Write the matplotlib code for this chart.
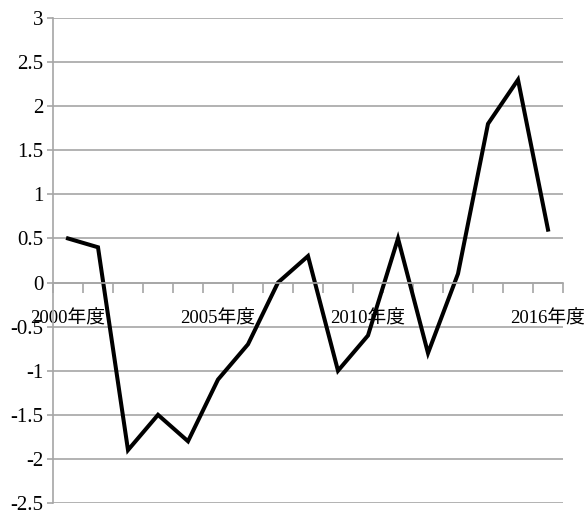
import matplotlib.pyplot as plt
import numpy as np
from matplotlib.ticker import FixedLocator, FixedFormatter, FuncFormatter

plt.rcParams["font.family"] = ["Liberation Serif", "Noto Sans CJK JP"]
plt.rcParams["axes.unicode_minus"] = False

# 年度ごとの値
years = list(range(2000, 2017))
values = [0.5, 0.4, -1.9, -1.5, -1.8, -1.1, -0.7, 0.0, 0.3, -1.0,
          -0.6, 0.5, -0.8, 0.1, 1.8, 2.3, 0.6]
label_years = [2000, 2005, 2010, 2016]
y_ticks = [-2.5, -2, -1.5, -1, -0.5, 0, 0.5, 1, 1.5, 2, 2.5, 3]

grid_color = "#a6a6a6"

fig = plt.figure(figsize=(5.84, 5.18), dpi=100)
ax = fig.add_axes([53 / 584, 1 - 503 / 518, 510 / 584, 485 / 518])

x = np.arange(len(years))
ax.plot(x, values, color="black", linewidth=2.9, solid_joinstyle="miter")

ax.set_xlim(-0.5, len(years) - 0.5)
ax.set_ylim(-2.5, 3)

# 横軸は 0 の位置、区切りの目盛りは下向き
ax.spines["bottom"].set_position(("data", 0))
ax.spines["bottom"].set_color(grid_color)
ax.spines["bottom"].set_linewidth(1.2)
ax.spines["left"].set_color(grid_color)
ax.spines["left"].set_linewidth(1.2)
ax.spines["top"].set_visible(False)
ax.spines["right"].set_visible(False)

ax.xaxis.set_major_locator(FixedLocator(np.arange(len(years) + 1) - 0.5))
ax.xaxis.set_major_formatter(FixedFormatter([]))
ax.tick_params(axis="x", which="major", direction="out", length=7,
               width=1.2, color=grid_color)

label_pos = [years.index(yr) for yr in label_years]
ax.xaxis.set_minor_locator(FixedLocator(label_pos))
ax.xaxis.set_minor_formatter(FixedFormatter([f"{yr}年度" for yr in label_years]))
ax.tick_params(axis="x", which="minor", length=0, pad=20, labelsize=13.5)

ax.set_yticks(y_ticks)
ax.yaxis.set_major_formatter(FuncFormatter(lambda v, p: f"{v:g}"))
ax.tick_params(axis="y", direction="out", length=4, width=1.2,
               color=grid_color, labelsize=15, pad=3)

ax.grid(axis="y", color=grid_color, linewidth=1.2)
ax.set_axisbelow(True)

fig.savefig("out.png", dpi=100)
